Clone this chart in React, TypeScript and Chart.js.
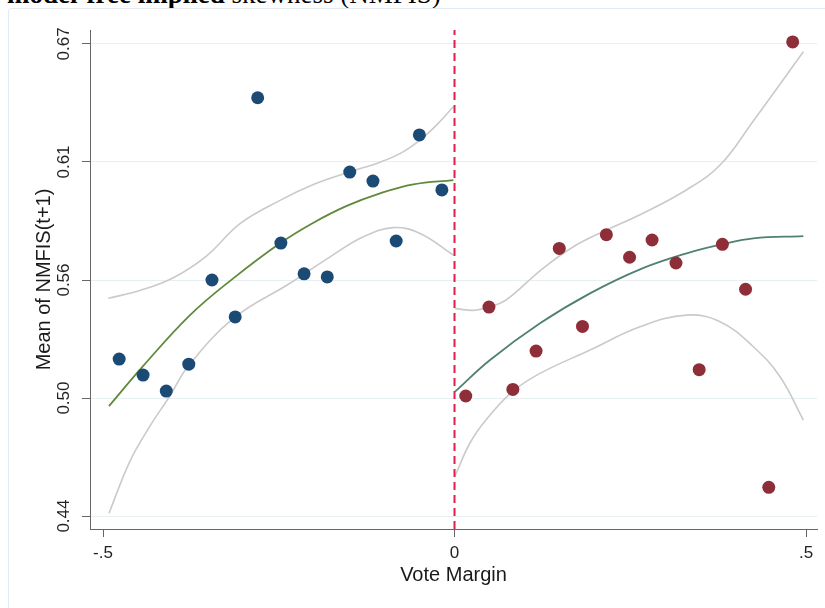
import React, { useEffect, useRef } from "react";
import { Chart, registerables } from "chart.js";

Chart.register(...registerables);

// ---- axis ticks ----
const xTickValues = [-0.5, 0, 0.5];
const xTickLabels = ["-.5", "0", ".5"];
const yTickValues = [0.44, 0.4975, 0.555, 0.6125, 0.67];
const yTickLabels = ["0.44", "0.50", "0.56", "0.61", "0.67"];
const xMin = -0.5185;
const xMax = 0.5156;
const yMin = 0.4337;
const yMax = 0.6768;

// ---- binned means (left of cutoff) ----
const blueX = [-0.477, -0.443, -0.41, -0.378, -0.345, -0.312, -0.28, -0.247, -0.214, -0.181, -0.149, -0.116, -0.083, -0.05, -0.018];
const blueY = [0.5165, 0.5087, 0.5009, 0.514, 0.555, 0.537, 0.6438, 0.573, 0.558, 0.5565, 0.6076, 0.6032, 0.574, 0.6257, 0.5989];

// ---- binned means (right of cutoff) ----
const redX = [0.016, 0.049, 0.083, 0.116, 0.149, 0.182, 0.216, 0.249, 0.281, 0.315, 0.348, 0.381, 0.414, 0.447, 0.481];
const redY = [0.4985, 0.5418, 0.5017, 0.5204, 0.5704, 0.5324, 0.5771, 0.5661, 0.5745, 0.5633, 0.5113, 0.5724, 0.5505, 0.454, 0.671];

// ---- fitted polynomial, left ----
const fitLX = [-0.4915, -0.444, -0.3762, -0.3147, -0.2482, -0.2013, -0.1533, -0.106, -0.0586, -0.0017];
const fitLY = [0.4936, 0.5127, 0.5379, 0.5558, 0.5729, 0.5828, 0.5911, 0.5972, 0.6016, 0.6037];
const ciLUpX = [-0.4925, -0.4474, -0.4, -0.3525, -0.3051, -0.2482, -0.2008, -0.1533, -0.106, -0.0765, -0.0491, -0.0253, -0.0017];
const ciLUpY = [0.5461, 0.5499, 0.5561, 0.5668, 0.5825, 0.5938, 0.6015, 0.6072, 0.6124, 0.6168, 0.6232, 0.6306, 0.6394];
const ciLLoX = [-0.4915, -0.4616, -0.4331, -0.4047, -0.3787, -0.3137, -0.234, -0.1771, -0.1297, -0.0871, -0.0491, -0.0017];
const ciLLoY = [0.4414, 0.4668, 0.4839, 0.4986, 0.5131, 0.5365, 0.5534, 0.5663, 0.5761, 0.5805, 0.5777, 0.5672];

// ---- fitted polynomial, right ----
const fitRX = [0.0007, 0.0505, 0.1216, 0.1927, 0.2639, 0.3303, 0.3809, 0.425, 0.4962];
const fitRY = [0.5006, 0.516, 0.5339, 0.5485, 0.5602, 0.568, 0.5724, 0.5753, 0.5764];
const ciRUpX = [0.0007, 0.0267, 0.0491, 0.0743, 0.1216, 0.169, 0.2165, 0.2639, 0.3303, 0.3777, 0.425, 0.4962];
const ciRUpY = [0.5412, 0.5402, 0.5418, 0.5455, 0.5595, 0.5712, 0.5794, 0.5868, 0.5990, 0.6110, 0.6325, 0.6662];
const ciRLoX = [0.0007, 0.022, 0.0458, 0.0828, 0.1216, 0.1927, 0.2639, 0.3303, 0.3777, 0.425, 0.463, 0.4962];
const ciRLoY = [0.4595, 0.4756, 0.4873, 0.5007, 0.5095, 0.5209, 0.5322, 0.5379, 0.5347, 0.5225, 0.5079, 0.4868];

// ---- cutoff ----
const cutoffX = 0;

const pts = (xs: number[], ys: number[]) => xs.map((x, i) => ({ x, y: ys[i] }));

const SANS = "'Liberation Sans', Arial, sans-serif";

export default function App() {
  const ref = useRef<HTMLCanvasElement | null>(null);

  useEffect(() => {
    if (!ref.current) return;
    const ciStyle = {
      showLine: true,
      pointRadius: 0,
      borderColor: "#cacaca",
      borderWidth: 1.6,
      tension: 0.4,
      fill: false,
      order: 3,
    };
    const chart = new Chart(ref.current, {
      type: "scatter",
      data: {
        datasets: [
          { data: pts(blueX, blueY), pointRadius: 6.5, pointBackgroundColor: "#1b4a74", pointBorderWidth: 0, showLine: false, order: 0 },
          { data: pts(redX, redY), pointRadius: 6.5, pointBackgroundColor: "#8e2e38", pointBorderWidth: 0, showLine: false, order: 0 },
          { data: pts(fitLX, fitLY), showLine: true, pointRadius: 0, borderColor: "#5f8a3c", borderWidth: 1.8, tension: 0.4, order: 2 },
          { data: pts(fitRX, fitRY), showLine: true, pointRadius: 0, borderColor: "#4f8071", borderWidth: 1.8, tension: 0.4, order: 2 },
          { data: pts(ciLUpX, ciLUpY), ...ciStyle },
          { data: pts(ciLLoX, ciLLoY), ...ciStyle },
          { data: pts(ciRUpX, ciRUpY), ...ciStyle },
          { data: pts(ciRLoX, ciRLoY), ...ciStyle },
          {
            data: [{ x: cutoffX, y: yMin }, { x: cutoffX, y: yMax }],
            showLine: true,
            pointRadius: 0,
            borderColor: "#e0204a",
            borderWidth: 2,
            borderDash: [8, 5],
            order: 1,
          },
        ],
      },
      options: {
        animation: false,
        responsive: false,
        devicePixelRatio: 1,
        layout: { padding: { top: 30, right: 8, left: 0, bottom: 0 } },
        plugins: { legend: { display: false }, tooltip: { enabled: false } },
        scales: {
          x: {
            type: "linear",
            min: xMin,
            max: xMax,
            afterFit: (s: any) => { s.height = 79; },
            afterBuildTicks: (s: any) => { s.ticks = xTickValues.map((v) => ({ value: v })); },
            ticks: {
              autoSkip: false,
              maxRotation: 0,
              minRotation: 0,
              padding: 6,
              color: "#222",
              font: { family: SANS, size: 17 },
              callback: (_v: any, i: number) => xTickLabels[i],
            },
            grid: { drawOnChartArea: false, tickLength: 8, tickColor: "#666", tickWidth: 1 },
            border: { color: "#666", width: 1 },
            title: {
              display: true,
              text: "Vote Margin",
              color: "#1a1a1a",
              font: { family: SANS, size: 20 },
              padding: { top: 0, bottom: 21 },
            },
          },
          y: {
            type: "linear",
            min: yMin,
            max: yMax,
            afterFit: (s: any) => { s.width = 90; },
            afterBuildTicks: (s: any) => { s.ticks = yTickValues.map((v) => ({ value: v })); },
            ticks: {
              autoSkip: false,
              minRotation: 90,
              maxRotation: 90,
              crossAlign: "center",
              padding: 1,
              color: "#222",
              font: { family: SANS, size: 17 },
              callback: (_v: any, i: number) => yTickLabels[i],
            },
            grid: { color: "#e8eff2", lineWidth: 1, tickLength: 8, tickColor: "#666", tickWidth: 1 },
            border: { color: "#666", width: 1 },
            title: {
              display: true,
              text: "Mean of NMFIS(t+1)",
              color: "#1a1a1a",
              font: { family: SANS, size: 20 },
              padding: { top: 32, bottom: 0 },
            },
          },
        },
      },
    } as any);
    return () => chart.destroy();
  }, []);

  return (
    <div style={{ position: "fixed", left: 0, top: 0, width: 825, height: 608, background: "#fff", overflow: "hidden" }}>
      <div
        style={{
          position: "absolute",
          left: 7,
          top: -18.6,
          fontFamily: "'Liberation Serif', 'Times New Roman', serif",
          fontSize: 27,
          lineHeight: "27px",
          whiteSpace: "nowrap",
          color: "#000",
        }}
      >
        <b>model-free implied</b> skewness (NMFIS)
      </div>
      <div
        style={{
          position: "absolute",
          left: 8,
          top: 8,
          width: 840,
          height: 620,
          border: "1px solid #e3ebf0",
          borderRadius: 3,
        }}
      />
      <canvas ref={ref} width={825} height={608} style={{ position: "absolute", left: 0, top: 0, width: 825, height: 608 }} />
    </div>
  );
}
